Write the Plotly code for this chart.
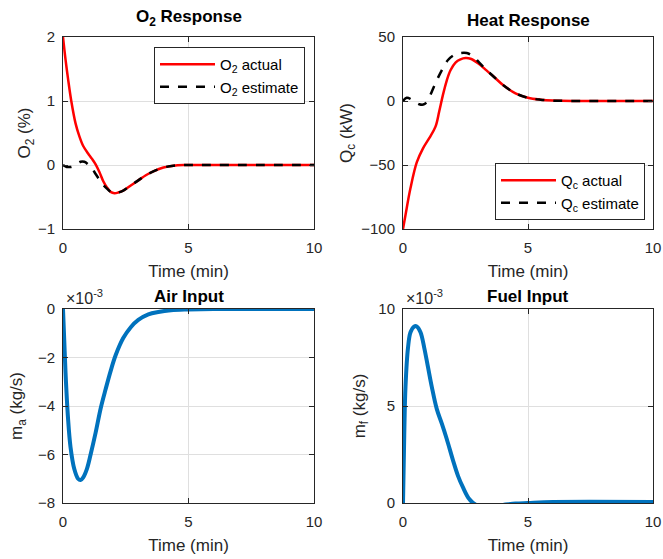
import plotly.graph_objects as go

# ---- time-response data (time in minutes) ----
o2_t_actual = [0, 0.1, 0.2, 0.33, 0.5, 0.65, 0.8, 1.0, 1.15, 1.3, 1.45, 1.6, 1.75, 1.9, 2.05,
               2.2, 2.4, 2.7, 3.0, 3.3, 3.6, 4.0, 4.4, 4.8, 5.5, 10]
o2_actual = [2.0, 1.65, 1.35, 1.0, 0.65, 0.45, 0.3, 0.18, 0.1, 0.01, -0.11, -0.25, -0.35, -0.42, -0.44,
             -0.43, -0.4, -0.32, -0.24, -0.16, -0.1, -0.04, -0.01, 0, 0, 0]

o2_t_est = [0, 0.15, 0.3, 0.5, 0.7, 0.85, 1.0, 1.15, 1.3, 1.45, 1.6, 1.75, 1.9, 2.05,
            2.2, 2.4, 2.7, 3.0, 3.3, 3.6, 4.0, 4.4, 4.8, 5.5, 10]
o2_estimate = [0, -0.03, -0.03, 0.0, 0.05, 0.05, 0.01, -0.05, -0.14, -0.23, -0.31, -0.37, -0.42, -0.44,
               -0.43, -0.4, -0.32, -0.24, -0.16, -0.1, -0.04, -0.01, 0, 0, 0]

q_t_actual = [0, 0.1, 0.3, 0.55, 0.8, 1.05, 1.3, 1.45, 1.6, 1.75, 1.9, 2.1, 2.3, 2.5, 2.7,
              3.0, 3.3, 3.6, 4.0, 4.5, 5.0, 5.5, 6.0, 7, 10]
q_actual = [-100, -89, -68, -48, -37, -29, -20, -8, 5, 16, 24, 30, 32.5, 33.5, 33,
            29.5, 24.5, 19.5, 12.5, 6, 2.5, 1, 0.3, 0, 0]

q_t_est = [0, 0.15, 0.4, 0.65, 0.85, 1.05, 1.3, 1.55, 1.8, 2.05, 2.3, 2.55, 2.8, 3.05,
           3.3, 3.6, 4.0, 4.5, 5.0, 5.5, 6.0, 7, 10]
q_estimate = [0, 2.5, 0.5, -2.5, -2.5, 3, 14, 24, 32, 36, 37.5, 37.5, 35, 30,
              25, 19.5, 12.5, 6, 2.5, 1, 0.3, 0, 0]

# input flows in units of 1e-3 kg/s
air_t = [0, 0.05, 0.1, 0.2, 0.3, 0.45, 0.6, 0.7, 0.8, 0.95, 1.1, 1.3, 1.5, 1.7, 1.9, 2.1,
         2.4, 2.7, 3.0, 3.4, 3.8, 4.3, 5, 6, 10]
air_input = [0, -1.3, -2.6, -4.5, -5.7, -6.6, -7.0, -7.05, -6.95, -6.6, -6.0, -5.1, -4.1, -3.3, -2.55, -1.9,
             -1.2, -0.75, -0.45, -0.22, -0.12, -0.05, -0.02, 0, 0]

fuel_t = [0, 0.05, 0.1, 0.2, 0.3, 0.45, 0.55, 0.7, 0.85, 1.0, 1.15, 1.35, 1.55, 1.75, 2.0,
          2.2, 2.4, 2.65, 2.9, 3.2, 3.5, 4.0, 4.5, 5, 6, 10]
fuel_input = [0, 3.5, 6.0, 8.0, 8.8, 9.1, 9.1, 8.8, 8.0, 7.0, 6.0, 4.85, 4.1, 3.3, 2.2,
              1.4, 0.8, 0.2, -0.08, -0.16, -0.15, -0.1, -0.03, 0, 0.05, 0.05]

x_ticks = [0, 5, 10]
o2_ticks = [-1, 0, 1, 2]
q_ticks = [-100, -50, 0, 50]
air_ticks = [-8, -6, -4, -2, 0]
fuel_ticks = [0, 5, 10]

RED = "#FF0000"
BLUE = "#0072BD"
AX = "#262626"
FONT = "Liberation Sans, Arial, sans-serif"

fig = go.Figure()

fig.add_trace(go.Scatter(x=o2_t_actual, y=o2_actual, mode="lines", name="O<sub>2</sub> actual",
                         line=dict(color=RED, width=2.5, shape="spline"),
                         xaxis="x", yaxis="y", legend="legend"))
fig.add_trace(go.Scatter(x=o2_t_est, y=o2_estimate, mode="lines", name="O<sub>2</sub> estimate",
                         line=dict(color="black", width=2.5, dash="dash", shape="spline"),
                         xaxis="x", yaxis="y", legend="legend"))
fig.add_trace(go.Scatter(x=q_t_actual, y=q_actual, mode="lines", name="Q<sub>c</sub> actual",
                         line=dict(color=RED, width=2.5, shape="spline"),
                         xaxis="x2", yaxis="y2", legend="legend2"))
fig.add_trace(go.Scatter(x=q_t_est, y=q_estimate, mode="lines", name="Q<sub>c</sub> estimate",
                         line=dict(color="black", width=2.5, dash="dash", shape="spline"),
                         xaxis="x2", yaxis="y2", legend="legend2"))
fig.add_trace(go.Scatter(x=air_t, y=air_input, mode="lines", showlegend=False,
                         line=dict(color=BLUE, width=4, shape="spline"),
                         xaxis="x3", yaxis="y3"))
fig.add_trace(go.Scatter(x=fuel_t, y=fuel_input, mode="lines", showlegend=False,
                         line=dict(color=BLUE, width=4, shape="spline"),
                         xaxis="x4", yaxis="y4"))

W, H = 663, 559
left_dom = [63 / W, 314 / W]
right_dom = [403 / W, 653 / W]
top_dom = [1 - 229 / H, 1 - 37 / H]
bot_dom = [1 - 503 / H, 1 - 309 / H]


def axis_style(**kw):
    base = dict(showline=True, linecolor=AX, linewidth=1, mirror="ticks",
                ticks="inside", ticklen=5, tickcolor=AX, automargin=False,
                showgrid=True, gridcolor="#DFDFDF", gridwidth=1, zeroline=False,
                tickfont=dict(family=FONT, size=15, color=AX),
                title_font=dict(family=FONT, size=17, color=AX))
    base.update(kw)
    return base


def x_axis(dom, anchor):
    return axis_style(domain=dom, anchor=anchor, range=[0, 10], tickvals=x_ticks,
                      ticklabelstandoff=5, title=dict(text="Time (min)", standoff=10))


layout = dict(
    width=W, height=H,
    margin=dict(l=0, r=0, t=0, b=0),
    paper_bgcolor="white", plot_bgcolor="white",
    font=dict(family=FONT, color=AX),
    xaxis=x_axis(left_dom, "y"),
    yaxis=axis_style(domain=top_dom, anchor="x", range=[-1, 2], tickvals=o2_ticks,
                     ticklabelstandoff=4, title=dict(text="O<sub>2</sub> (%)", standoff=2)),
    xaxis2=x_axis(right_dom, "y2"),
    yaxis2=axis_style(domain=top_dom, anchor="x2", range=[-100, 50], tickvals=q_ticks,
                      ticklabelstandoff=4, title=dict(text="Q<sub>c</sub> (kW)", standoff=4)),
    xaxis3=x_axis(left_dom, "y3"),
    yaxis3=axis_style(domain=bot_dom, anchor="x3", range=[-8, 0], tickvals=air_ticks,
                      ticklabelstandoff=4, title=dict(text="m<sub>a</sub> (kg/s)", standoff=10)),
    xaxis4=x_axis(right_dom, "y4"),
    yaxis4=axis_style(domain=bot_dom, anchor="x4", range=[0, 10], tickvals=fuel_ticks,
                      ticklabelstandoff=4, title=dict(text="m<sub>f</sub> (kg/s)", standoff=8)),
    legend=dict(x=154 / W, y=1 - 47 / H, xanchor="left", yanchor="top",
                bgcolor="white", bordercolor=AX, borderwidth=1, itemwidth=55,
                font=dict(family=FONT, size=15, color="black"), tracegroupgap=0),
    legend2=dict(x=495 / W, y=1 - 163 / H, xanchor="left", yanchor="top",
                 bgcolor="white", bordercolor=AX, borderwidth=1, itemwidth=55,
                 font=dict(family=FONT, size=15, color="black"), tracegroupgap=0),
)
fig.update_layout(**layout)

titles = [
    ("<b>O<sub>2</sub> Response</b>", sum(left_dom) / 2, top_dom[1], 6),
    ("<b>Heat Response</b>", sum(right_dom) / 2, top_dom[1], 5),
    ("<b>Air Input</b>", sum(left_dom) / 2, bot_dom[1], 1),
    ("<b>Fuel Input</b>", sum(right_dom) / 2, bot_dom[1], 1),
]
for text, xp, yp, shift in titles:
    fig.add_annotation(text=text, x=xp, y=yp, xref="paper", yref="paper",
                       xanchor="center", yanchor="bottom", yshift=shift, showarrow=False,
                       font=dict(family=FONT, size=17, color="black"))

for xp in (left_dom[0], right_dom[0]):
    fig.add_annotation(text="×10<sup>-3</sup>", x=xp, y=bot_dom[1], xref="paper", yref="paper",
                       xanchor="left", yanchor="bottom", xshift=1, yshift=0, showarrow=False,
                       font=dict(family=FONT, size=16, color=AX))

fig.write_html("out.html")
